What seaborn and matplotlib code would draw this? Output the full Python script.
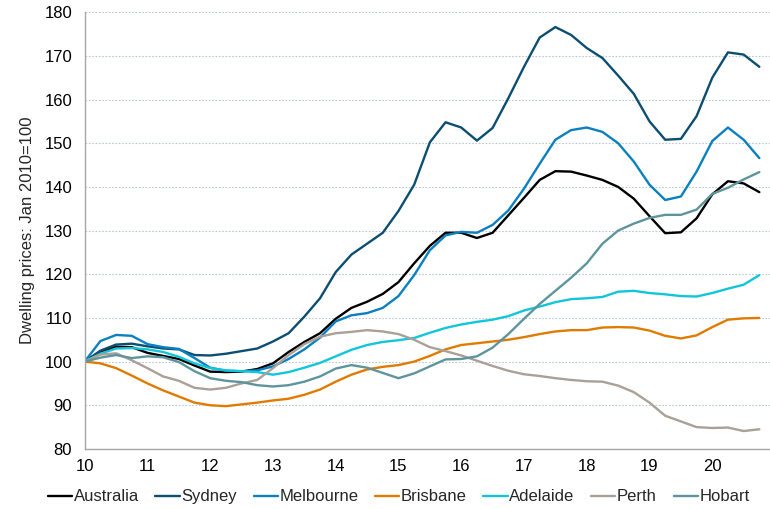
import numpy as np
import pandas as pd
import matplotlib
matplotlib.use("Agg")
import matplotlib.pyplot as plt
import seaborn as sns

# quarterly index values, Jan 2010 = 100 (x in years, 10 = 2010)
quarters = 10 + np.arange(44) * 0.25

australia = [100, 102.3, 103.4, 103.3, 102.0, 101.3, 100.6, 99.1, 97.7, 97.6, 97.7, 98.3,
             99.6, 102.2, 104.5, 106.5, 109.8, 112.3, 113.7, 115.5, 118.2, 122.5, 126.5, 129.5,
             129.5, 128.3, 129.5, 133.5, 137.5, 141.6, 143.6, 143.5, 142.6, 141.6, 140.0, 137.3,
             133.3, 129.4, 129.6, 132.8, 138.3, 141.3, 140.8, 138.8]
sydney = [100, 102.5, 103.9, 104.1, 103.5, 103.0, 102.8, 101.5, 101.4, 101.8, 102.4, 103.0,
          104.6, 106.5, 110.3, 114.5, 120.5, 124.5, 127.0, 129.5, 134.5, 140.5, 150.2, 154.8,
          153.6, 150.6, 153.5, 160.3, 167.5, 174.2, 176.6, 174.8, 171.8, 169.5, 165.5, 161.3,
          155.0, 150.8, 151.0, 156.2, 165.0, 170.8, 170.3, 167.5]
melbourne = [100, 104.7, 106.1, 105.9, 104.0, 103.3, 102.9, 100.8, 98.6, 97.9, 97.8, 98.0,
             98.9, 100.6, 102.8, 105.5, 109.2, 110.6, 111.1, 112.3, 115.0, 119.8, 125.5, 128.9,
             129.7, 129.5, 131.3, 134.6, 139.6, 145.3, 150.8, 153.0, 153.6, 152.6, 150.0, 145.8,
             140.5, 137.0, 137.8, 143.5, 150.5, 153.6, 150.8, 146.6]
brisbane = [100, 99.6, 98.5, 96.8, 95.0, 93.4, 92.0, 90.6, 90.0, 89.8, 90.2, 90.6,
            91.1, 91.5, 92.4, 93.6, 95.4, 97.0, 98.2, 98.8, 99.2, 100.0, 101.3, 102.8,
            103.8, 104.2, 104.6, 105.0, 105.6, 106.3, 106.9, 107.2, 107.2, 107.8, 107.9, 107.8,
            107.1, 105.9, 105.3, 106.0, 107.9, 109.6, 109.9, 110.0]
adelaide = [100, 101.8, 103.0, 103.1, 102.8, 102.2, 101.1, 99.6, 98.5, 98.0, 97.8, 97.6,
            97.0, 97.6, 98.6, 99.7, 101.2, 102.7, 103.8, 104.5, 104.9, 105.4, 106.6, 107.7,
            108.5, 109.1, 109.6, 110.4, 111.7, 112.6, 113.6, 114.3, 114.5, 114.8, 116.0, 116.2,
            115.7, 115.4, 115.0, 114.9, 115.7, 116.7, 117.6, 119.8]
perth = [100, 101.6, 101.9, 100.3, 98.5, 96.6, 95.6, 94.0, 93.6, 94.0, 95.0, 95.8,
         98.5, 101.5, 104.0, 105.7, 106.5, 106.8, 107.2, 106.9, 106.3, 105.0, 103.3, 102.4,
         101.4, 100.2, 99.0, 97.9, 97.1, 96.7, 96.2, 95.8, 95.5, 95.4, 94.5, 93.0,
         90.6, 87.6, 86.3, 85.0, 84.8, 84.9, 84.1, 84.5]
hobart = [100, 100.9, 101.5, 100.8, 101.2, 101.0, 99.9, 97.8, 96.2, 95.6, 95.3, 94.6,
          94.3, 94.6, 95.4, 96.6, 98.4, 99.2, 98.6, 97.4, 96.2, 97.3, 98.9, 100.5,
          100.6, 101.2, 103.2, 106.3, 109.8, 113.2, 116.2, 119.2, 122.5, 127.0, 130.0, 131.6,
          132.9, 133.6, 133.6, 134.8, 138.4, 139.8, 141.7, 143.4]

cities = ["Australia", "Sydney", "Melbourne", "Brisbane", "Adelaide", "Perth", "Hobart"]
series = [australia, sydney, melbourne, brisbane, adelaide, perth, hobart]
colors = ["#000000", "#0b4e72", "#0a80c0", "#e07b00", "#12c6da", "#aaa097", "#5e959c"]

df = pd.concat([pd.DataFrame({"year": quarters, "index": vals, "city": name})
                for name, vals in zip(cities, series)])

sns.set_style("white")
plt.rcParams["font.family"] = ["Liberation Sans", "DejaVu Sans"]

fig = plt.figure(figsize=(7.7, 5.09), dpi=100)
ax = fig.add_axes([0.110, 0.118, 0.890, 0.858])

sns.lineplot(data=df, x="year", y="index", hue="city", hue_order=cities,
             palette=dict(zip(cities, colors)), linewidth=1.7, ax=ax)

ax.set_xlim(10, 20.92)
ax.set_ylim(80, 180)
ax.set_xticks(range(10, 21))
ax.set_xticklabels([str(v) for v in range(10, 21)])
ax.set_yticks(range(80, 181, 10))
ax.grid(axis="y", linestyle=(0, (1.5, 1.5)), color="#b9c9d2", linewidth=0.8)
ax.grid(axis="x", visible=False)
for side in ["top", "right"]:
    ax.spines[side].set_visible(False)
for side in ["left", "bottom"]:
    ax.spines[side].set_color("#a6a6a6")
    ax.spines[side].set_linewidth(1.0)
ax.tick_params(axis="both", direction="out", length=4, width=1.0, color="#a6a6a6",
               labelsize=12, labelcolor="#000000")
ax.tick_params(axis="y", pad=5)
ax.tick_params(axis="x", pad=3)
ax.set_xlabel("")
ax.set_ylabel("Dwelling prices: Jan 2010=100", fontsize=12, labelpad=7)

handles, labels = ax.get_legend_handles_labels()
ax.legend(handles, labels, loc="center left", bbox_to_anchor=(-0.054, -0.110), ncol=7,
          frameon=False, fontsize=12, handlelength=1.45, handletextpad=0.1,
          columnspacing=1.0, borderpad=0, borderaxespad=0)

fig.savefig("out.png", dpi=100)
